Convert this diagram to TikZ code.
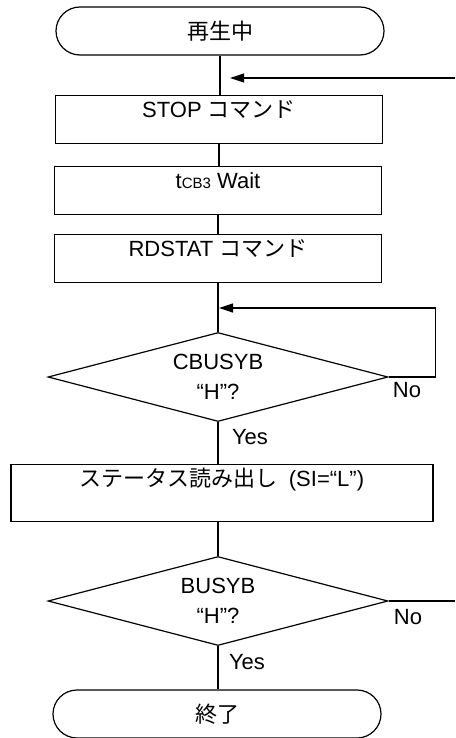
\documentclass[tikz,border=0pt]{standalone}
\usepackage{fontspec}
\setmainfont{Liberation Sans}
\newfontfamily\jpfont{Noto Sans CJK JP}
\usetikzlibrary{arrows.meta, positioning, shapes.geometric}

\newcommand{\chartfont}{\fontsize{22pt}{30pt}\selectfont}

\begin{document}
\begin{tikzpicture}[
    x=1pt, y=-1pt,
    line width=1.2pt,
    term/.style={draw, rounded corners=24pt, minimum width=328pt, minimum height=48pt, inner sep=0pt, font=\chartfont},
    proc/.style={draw, anchor=north, minimum width=#1, inner xsep=0pt, inner ysep=0pt, text height=22pt, text depth=26pt, font=\chartfont},
    cond/.style={draw, diamond, aspect=3.82, minimum width=340pt, minimum height=89pt, inner sep=0pt, align=center, font=\chartfont},
    tag/.style={font=\chartfont},
    arr/.style={-{Triangle[length=14pt, width=9pt]}},
]
\useasboundingbox (0,0) rectangle (455,738);

\node[term] (start) at (220,31) {\jpfont 再生中};
\node[proc=327pt] (stop) at (219,95) {STOP {\jpfont コマンド}};
\node[proc=327pt] (wait) at (218,166) {t{\fontsize{15pt}{15pt}\selectfont CB3} Wait};
\node[proc=327pt] (rdstat) at (218,234) {RDSTAT {\jpfont コマンド}};
\node[cond] (cbusy) at (218,377) {CBUSYB\\“H”?};
\node[proc=422pt, text depth=35pt] (status) at (222,464) {{\jpfont ステータス読み出し}\hspace{0.5em}(SI=“L”)};
\node[cond] (busy) at (218,601) {BUSYB\\“H”?};
\node[term] (fin) at (217,714) {\jpfont 終了};

% Yes / No
\node[tag] (no1) at (407,390) {No};
\node[tag] (yes1) at (250,437) {Yes};
\node[tag] (no2) at (408,617) {No};
\node[tag] (yes2) at (247,662) {Yes};

\coordinate (retfrom) at (455,78);
\coordinate (retto) at (230,78);
\coordinate (loopin) at (219,308);
\coordinate (busyout) at (455,601);

\draw (start.south) -- (start.south |- stop.north);
\draw (stop.south) -- (stop.south |- wait.north);
\draw (wait.south) -- (wait.south |- rdstat.north);
\draw (rdstat.south) -- (rdstat.south |- cbusy.north);
\draw (cbusy.south) -- (cbusy.south |- status.north);
\draw (busy.north) -- (busy.north |- status.south);
\draw (busy.south) -- (busy.south |- fin.north);

\draw[arr] (retfrom) -- (retto);
\draw[arr] (cbusy.east) -- ++(47,0) |- (loopin);
\draw (busy.east) -- (busyout);

\end{tikzpicture}
\end{document}
